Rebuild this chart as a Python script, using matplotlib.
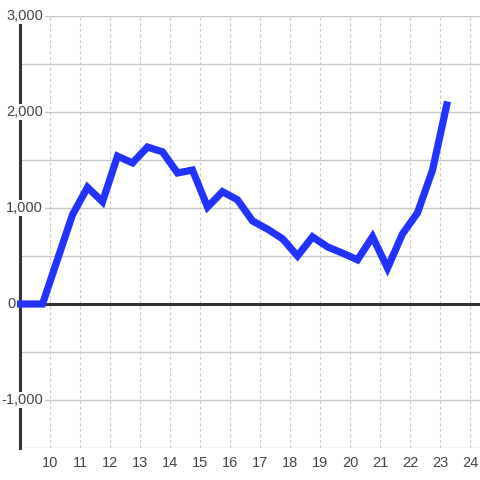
import matplotlib
matplotlib.use('Agg')
import matplotlib.pyplot as plt

# values
hours = [8.9, 9.75, 10.75, 11.25, 11.75, 12.25, 12.75, 13.25, 13.75, 14.25,
         14.75, 15.25, 15.75, 16.25, 16.75, 17.25, 17.75, 18.25, 18.75, 19.25,
         19.75, 20.25, 20.75, 21.25, 21.75, 22.25, 22.75, 23.25]
values = [0, 0, 930, 1215, 1065, 1540, 1470, 1635, 1585, 1365,
          1395, 1010, 1170, 1085, 865, 780, 680, 500, 700, 595,
          530, 460, 700, 375, 730, 950, 1395, 2110]
x_ticks = list(range(10, 25))
y_ticks = [-1000, 0, 1000, 2000, 3000]
y_labels = ['-1,000', '0', '1,000', '2,000', '3,000']

fig = plt.figure(figsize=(4.8, 4.8), dpi=100)
ax = fig.add_axes([20 / 480, 32 / 480, 460 / 480, 432 / 480])

ax.set_xlim(9, 24.333)
ax.set_ylim(-1500, 3000)

for s in ['top', 'right', 'bottom']:
    ax.spines[s].set_visible(False)
ax.spines['left'].set_color('#333333')
ax.spines['left'].set_linewidth(2.2)
ax.spines['left'].set_bounds(-1500, 2915)
ax.spines['left'].set_zorder(1)

# grid
for v in range(-1500, 3001, 500):
    ax.axhline(v, color='#c8c8c8', lw=1, zorder=0)
for x in x_ticks:
    ax.axvline(x, color='#c8c8c8', lw=0.8, ls=(0, (2.5, 2.5)), zorder=0)
ax.axhline(0, color='#333333', lw=2.2, zorder=2)

ax.set_yticks([])
ax.set_xticks(x_ticks)
ax.set_xticklabels([str(t) for t in x_ticks], fontsize=10.5,
                   family='Liberation Sans', color='#444444')
ax.tick_params(axis='x', length=0, pad=6)

for v, lab in zip(y_ticks, y_labels):
    if v == 0:
        # the zero label sits left of the axis line
        ax.text(8.87, v, lab, ha='right', va='center', fontsize=10.5,
                family='Liberation Sans', color='#444444', zorder=1)
        continue
    ax.text(9.77, v, lab, ha='right', va='center', fontsize=10.5,
            family='Liberation Sans', color='#444444', zorder=4,
            bbox=dict(facecolor='white', edgecolor='none', pad=1))

ax.plot(hours, values, color='#2233ff', lw=5.2, solid_joinstyle='miter',
        solid_capstyle='butt', zorder=5, clip_on=False)

fig.savefig('out.png', dpi=100)
